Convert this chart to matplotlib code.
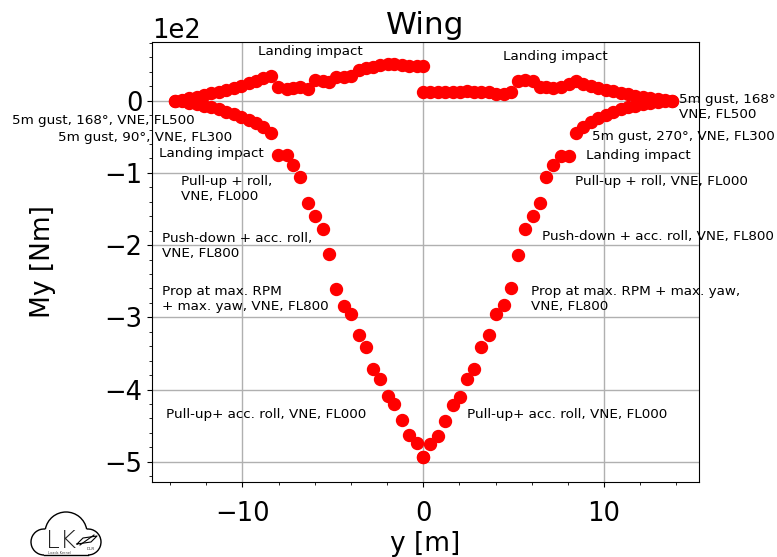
import matplotlib
matplotlib.use("Agg")
import matplotlib.pyplot as plt
from matplotlib.patches import Arc
from matplotlib.ticker import AutoMinorLocator

# ---------------- data (y station [m], My [Nm]) ----------------
left_y_outer = [-13.75, -13.34, -12.93, -12.53, -12.12, -11.71, -11.30, -10.89,
                -10.48, -10.07, -9.66, -9.25, -8.84, -8.43]
left_upper_outer = [0, 1.5, 3.5, 5.5, 7.5, 10, 12, 14.5, 17.5, 21, 24.5, 27.5, 31, 34]
left_lower_outer = [0, -1, -3, -5, -7, -9, -12, -15, -18.5, -23, -27, -31, -37, -45]

left_y_inner = [-8.03, -7.56, -7.20, -6.81, -6.40, -5.98, -5.57, -5.20, -4.80, -4.39,
                -3.99, -3.58, -3.19, -2.79, -2.38, -1.97, -1.59, -1.18, -0.78, -0.37, 0.0]
left_upper_inner = [18.6, 15.8, 17.2, 19.4, 16.2, 28.7, 27.3, 26.3, 33.2, 33.2,
                    34.6, 42.5, 44.9, 47, 49.4, 50.4, 50.4, 49.4, 48.5, 48, 48]
left_lower_inner = [-75.8, -75.8, -88.6, -105.7, -141.7, -159.3, -177.3, -212.3, -260.4, -283.9,
                    -295.4, -324.5, -341.1, -371.2, -385, -408.6, -420, -441.8, -463, -474, -494]

right_y_inner = [0.0, 0.40, 0.82, 1.23, 1.62, 2.01, 2.41, 2.82, 3.22, 3.63, 4.03,
                 4.44, 4.83, 5.22, 5.62, 6.05, 6.43, 6.80, 7.20, 7.63, 8.05]
right_upper_inner = [11.6, 12.5, 12.5, 12.5, 12.5, 12.5, 13.4, 11.6, 11.6, 11.6, 8.9,
                     8.9, 11.6, 27.3, 28.7, 27.3, 19.4, 19.4, 17.2, 19.4, 23]
right_lower_inner = [-494, -475, -464, -443, -422, -410, -385, -371, -341, -325, -295,
                     -283, -259, -213, -178, -160, -142, -106, -89, -77, -77]

right_y_outer = [8.45, 8.86, 9.27, 9.68, 10.09, 10.50, 10.91, 11.32, 11.73, 12.14,
                 12.55, 12.96, 13.37, 13.78]
right_upper_outer = [27, 23, 20, 17.5, 15, 13, 11, 9, 7, 5.5, 4, 2.5, 1, 0]
right_lower_outer = [-45, -37, -30, -24, -19.5, -15.5, -12, -9, -7, -5, -3.5, -2, -1, 0]

labels = [
    "Landing impact",
    "Landing impact",
    "5m gust, 168°, VNE, FL500",
    "5m gust, 90°, VNE, FL300",
    "Landing impact",
    "Pull-up + roll,\nVNE, FL000",
    "Push-down + acc. roll,\nVNE, FL800",
    "Prop at max. RPM\n+ max. yaw, VNE, FL800",
    "Pull-up+ acc. roll, VNE, FL000",
    "5m gust, 168°\nVNE, FL500",
    "5m gust, 270°, VNE, FL300",
    "Landing impact",
    "Pull-up + roll, VNE, FL000",
    "Push-down + acc. roll, VNE, FL800",
    "Prop at max. RPM + max. yaw,\nVNE, FL800",
    "Pull-up+ acc. roll, VNE, FL000",
]
# label anchor positions (data coords) and horizontal alignment
label_pos = [
    (-9.15, 67.5, "left"), (4.42, 61.9, "left"),
    (-12.67, -27.5, "right"), (-10.57, -51.0, "right"),
    (-14.61, -73.1, "left"), (-13.37, -122.3, "left"),
    (-14.42, -201.2, "left"), (-14.47, -274.0, "left"),
    (-14.20, -434.0, "left"), (14.14, -9.4, "left"),
    (9.31, -48.9, "left"), (8.98, -75.2, "left"),
    (8.38, -111.9, "left"), (6.54, -187.4, "left"),
    (5.95, -274.6, "left"), (2.43, -434.0, "left"),
]

# ---------------- figure ----------------
W, H = 777, 557
fig = plt.figure(figsize=(W / 100, H / 100), dpi=100)
ax = fig.add_axes([152 / W, 1 - 482 / H, (699 - 152) / W, (482 - 42) / H])

style = dict(ls="none", marker="o", color="red", ms=8.6, zorder=3)
for ys, ms_ in [(left_y_outer, left_upper_outer), (left_y_outer, left_lower_outer),
                (left_y_inner, left_upper_inner), (left_y_inner, left_lower_inner),
                (right_y_inner, right_upper_inner), (right_y_inner, right_lower_inner),
                (right_y_outer, right_upper_outer), (right_y_outer, right_lower_outer)]:
    ax.plot(ys, ms_, **style)

for txt, (xx, yy, ha) in zip(labels, label_pos):
    ax.text(xx, yy, txt, ha=ha, va="center", fontsize=9.7, clip_on=False, zorder=4)

ax.set_xlim(-15.0, 15.25)
ax.set_ylim(-528, 81.3)
ax.set_xticks([-10, 0, 10])
ax.set_yticks([-500, -400, -300, -200, -100, 0])
ax.xaxis.set_minor_locator(AutoMinorLocator(5))
ax.yaxis.set_minor_locator(AutoMinorLocator(5))
ax.ticklabel_format(axis="y", style="sci", scilimits=(0, 0))
ax.tick_params(labelsize=18.5)
ax.tick_params(axis="x", which="major", pad=10)
ax.yaxis.get_offset_text().set_fontsize(18.5)
ax.grid(True, which="major", color="#b0b0b0", lw=1)
ax.set_axisbelow(True)
ax.set_title("Wing", fontsize=22.5)
ax.set_xlabel("y [m]", fontsize=19, labelpad=3)
ax.set_ylabel("My [Nm]", fontsize=19, labelpad=35)

# ---------------- logo ----------------
lax = fig.add_axes([28 / W, 0, 76 / W, 47 / H])
lax.set_xlim(28, 104)
lax.set_ylim(0, 47)
lax.axis("off")
lw = 1.0
lax.add_patch(Arc((66, 24), 42, 42, theta1=10.8, theta2=169.2, lw=lw, color="black"))
lax.add_patch(Arc((44, 15), 26, 26, theta1=84, theta2=270, lw=lw, color="black"))
lax.add_patch(Arc((88, 15), 26, 26, theta1=-90, theta2=96, lw=lw, color="black"))
lax.plot([44, 88], [2, 2], color="black", lw=lw)
lax.text(46, 16.5, "LK", fontsize=18, fontweight="light", color="#222222", va="center", ha="left")
lax.text(48, 3.8, "Loads Kernel", fontsize=2.5, color="#444444", va="center", ha="left")
lax.text(87, 7.5, "DLR", fontsize=3, color="#333333", va="center", ha="left")
lax.plot([77, 83, 97, 91, 77], [13, 19, 21, 15, 13], color="black", lw=0.8)
lax.plot([80, 94], [12, 22], color="black", lw=0.8)

fig.savefig("out.png", dpi=100)
